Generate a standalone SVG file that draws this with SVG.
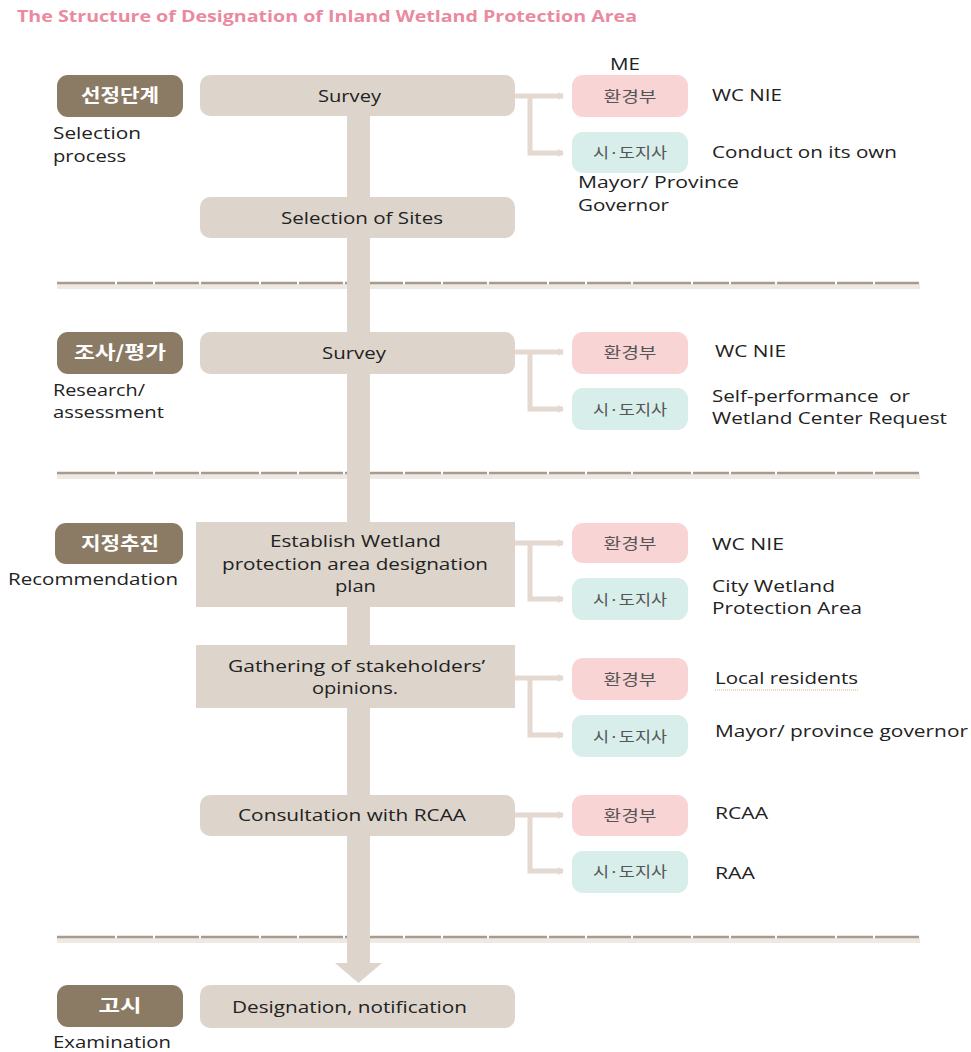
<svg xmlns="http://www.w3.org/2000/svg" width="971" height="1052" viewBox="0 0 971 1052">
<defs>
<marker id="ah" viewBox="0 0 6 8" refX="5" refY="4" markerWidth="6" markerHeight="8" markerUnits="userSpaceOnUse" orient="auto">
<path d="M0,0 L6,4 L0,8 z" fill="#e3d9d0"/>
</marker>
<style>
.stage{fill:#8b7a64}
.stxt{fill:#ffffff;font-family:"Noto Sans CJK KR",sans-serif;font-weight:bold;font-size:18px;text-anchor:middle}
.main{fill:#ddd5cb}
.t{fill:#222222;font-family:"Open Sans",sans-serif;font-size:17px}
.pink{fill:#f9d4d5}
.teal{fill:#d8eeea}
.kt{fill:#555555;font-family:"Noto Sans CJK KR",sans-serif;font-size:15px;text-anchor:middle}
.br{fill:none;stroke:#e3d9d0;stroke-width:5;marker-end:url(#ah)}
.brn{fill:none;stroke:#e3d9d0;stroke-width:5}
.div{stroke:#a79b8e;stroke-width:2.5;stroke-dasharray:58 2 36 2 44 2}
.band{fill:#efe9e4}
</style>
</defs>
<rect width="971" height="1052" fill="#ffffff"/>
<text x="17" y="22" fill="#ea8aa0" font-family="Open Sans, sans-serif" font-weight="bold" font-size="15.5" textLength="620" lengthAdjust="spacingAndGlyphs">The Structure of Designation of Inland Wetland Protection Area</text>

<g id="dividers">
<rect class="band" x="57" y="284" width="863" height="5"/>
<line class="div" x1="57" y1="283" x2="920" y2="283"/>
<rect class="band" x="57" y="474" width="863" height="5"/>
<line class="div" x1="57" y1="473" x2="920" y2="473"/>
<rect class="band" x="57" y="938" width="863" height="5"/>
<line class="div" x1="57" y1="937" x2="920" y2="937"/>
</g>

<g id="connectors">
<rect x="347" y="110" width="23" height="855" fill="#ddd5cb"/>
<polygon points="335,963 382,963 358.5,983" fill="#ddd5cb"/>
<path class="br" d="M515,96 H563"/>
<path class="br" d="M530,96 V153 H563"/>
<path class="br" d="M515,352 H563"/>
<path class="br" d="M530,352 V409 H563"/>
<path class="br" d="M515,543 H563"/>
<path class="br" d="M530,543 V599 H563"/>
<path class="br" d="M515,678 H563"/>
<path class="br" d="M530,678 V735 H563"/>
<path class="br" d="M515,815 H563"/>
<path class="br" d="M530,815 V871 H563"/>
</g>

<g id="stage1">
<rect class="stage" x="57" y="75" width="126" height="42" rx="11"/>
<text class="stxt" x="120" y="102" textLength="78" lengthAdjust="spacingAndGlyphs">선정단계</text>
<text class="t" x="53" y="139" textLength="88" lengthAdjust="spacingAndGlyphs">Selection</text>
<text class="t" x="53" y="162" textLength="73" lengthAdjust="spacingAndGlyphs">process</text>
</g>
<g id="survey1">
<rect class="main" x="200" y="75" width="315" height="41" rx="10"/>
<text class="t" x="318" y="102" textLength="63" lengthAdjust="spacingAndGlyphs">Survey</text>
</g>
<g id="me1">
<text class="t" x="610" y="70" textLength="30" lengthAdjust="spacingAndGlyphs">ME</text>
<rect class="pink" x="572" y="75" width="116" height="42" rx="11"/>
<text class="kt" x="630" y="102" textLength="53" lengthAdjust="spacingAndGlyphs">환경부</text>
<text class="t" x="712" y="101" textLength="70" lengthAdjust="spacingAndGlyphs">WC NIE</text>
</g>
<g id="gov1">
<rect class="teal" x="572" y="132" width="116" height="41" rx="11"/>
<text class="kt" x="630" y="158" textLength="74" lengthAdjust="spacingAndGlyphs">시·도지사</text>
<text class="t" x="712" y="158" textLength="185" lengthAdjust="spacingAndGlyphs">Conduct on its own</text>
<text class="t" x="578" y="188" textLength="161" lengthAdjust="spacingAndGlyphs">Mayor/ Province</text>
<text class="t" x="578" y="211" textLength="91" lengthAdjust="spacingAndGlyphs">Governor</text>
</g>
<g id="sites">
<rect class="main" x="200" y="197" width="315" height="41" rx="10"/>
<text class="t" x="281" y="224" textLength="162" lengthAdjust="spacingAndGlyphs">Selection of Sites</text>
</g>

<g id="stage2">
<rect class="stage" x="57" y="332" width="126" height="42" rx="11"/>
<text class="stxt" x="120" y="359" textLength="92" lengthAdjust="spacingAndGlyphs">조사/평가</text>
<text class="t" x="53" y="396" textLength="92" lengthAdjust="spacingAndGlyphs">Research/</text>
<text class="t" x="53" y="418" textLength="111" lengthAdjust="spacingAndGlyphs">assessment</text>
</g>
<g id="survey2">
<rect class="main" x="200" y="332" width="315" height="42" rx="10"/>
<text class="t" x="322" y="359" textLength="64" lengthAdjust="spacingAndGlyphs">Survey</text>
</g>
<g id="me2">
<rect class="pink" x="572" y="332" width="116" height="42" rx="11"/>
<text class="kt" x="630" y="358" textLength="53" lengthAdjust="spacingAndGlyphs">환경부</text>
<text class="t" x="715" y="357" textLength="71" lengthAdjust="spacingAndGlyphs">WC NIE</text>
</g>
<g id="gov2">
<rect class="teal" x="572" y="388" width="116" height="42" rx="11"/>
<text class="kt" x="630" y="415" textLength="74" lengthAdjust="spacingAndGlyphs">시·도지사</text>
<text class="t" x="712" y="402" textLength="198" lengthAdjust="spacingAndGlyphs" xml:space="preserve">Self-performance  or</text>
<text class="t" x="712" y="424" textLength="235" lengthAdjust="spacingAndGlyphs">Wetland Center Request</text>
</g>

<g id="stage3">
<rect class="stage" x="55" y="523" width="128" height="41" rx="11"/>
<text class="stxt" x="120" y="550" textLength="78" lengthAdjust="spacingAndGlyphs">지정추진</text>
<text class="t" x="8" y="585" textLength="170" lengthAdjust="spacingAndGlyphs">Recommendation</text>
</g>
<g id="establish">
<rect class="main" x="196" y="522" width="319" height="85"/>
<text class="t" x="270" y="547" textLength="171" lengthAdjust="spacingAndGlyphs">Establish Wetland</text>
<text class="t" x="222" y="570" textLength="266" lengthAdjust="spacingAndGlyphs">protection area designation</text>
<text class="t" x="335" y="592" textLength="41" lengthAdjust="spacingAndGlyphs">plan</text>
</g>
<g id="me3">
<rect class="pink" x="572" y="523" width="116" height="40" rx="11"/>
<text class="kt" x="630" y="549" textLength="53" lengthAdjust="spacingAndGlyphs">환경부</text>
<text class="t" x="712" y="550" textLength="72" lengthAdjust="spacingAndGlyphs">WC NIE</text>
</g>
<g id="gov3">
<rect class="teal" x="572" y="578" width="116" height="42" rx="11"/>
<text class="kt" x="630" y="605" textLength="74" lengthAdjust="spacingAndGlyphs">시·도지사</text>
<text class="t" x="712" y="592" textLength="123" lengthAdjust="spacingAndGlyphs">City Wetland</text>
<text class="t" x="712" y="614" textLength="150" lengthAdjust="spacingAndGlyphs">Protection Area</text>
</g>
<g id="gathering">
<rect class="main" x="196" y="645" width="319" height="63"/>
<text class="t" x="228" y="672" textLength="257" lengthAdjust="spacingAndGlyphs">Gathering of stakeholders’</text>
<text class="t" x="312" y="694" textLength="86" lengthAdjust="spacingAndGlyphs">opinions.</text>
</g>
<g id="me4">
<rect class="pink" x="572" y="658" width="116" height="42" rx="11"/>
<text class="kt" x="630" y="685" textLength="53" lengthAdjust="spacingAndGlyphs">환경부</text>
<text class="t" x="715" y="684" textLength="143" lengthAdjust="spacingAndGlyphs">Local residents</text>
<line x1="715" y1="690" x2="858" y2="690" stroke="#c8b87a" stroke-width="1" stroke-dasharray="1 1"/>
</g>
<g id="gov4">
<rect class="teal" x="572" y="715" width="116" height="42" rx="11"/>
<text class="kt" x="630" y="742" textLength="74" lengthAdjust="spacingAndGlyphs">시·도지사</text>
<text class="t" x="715" y="737" textLength="253" lengthAdjust="spacingAndGlyphs">Mayor/ province governor</text>
</g>
<g id="consultation">
<rect class="main" x="200" y="795" width="315" height="41" rx="10"/>
<text class="t" x="238" y="821" textLength="228" lengthAdjust="spacingAndGlyphs">Consultation with RCAA</text>
</g>
<g id="me5">
<rect class="pink" x="572" y="795" width="116" height="41" rx="11"/>
<text class="kt" x="630" y="821" textLength="53" lengthAdjust="spacingAndGlyphs">환경부</text>
<text class="t" x="715" y="819" textLength="53" lengthAdjust="spacingAndGlyphs">RCAA</text>
</g>
<g id="gov5">
<rect class="teal" x="572" y="851" width="116" height="42" rx="11"/>
<text class="kt" x="630" y="877" textLength="74" lengthAdjust="spacingAndGlyphs">시·도지사</text>
<text class="t" x="715" y="879" textLength="40" lengthAdjust="spacingAndGlyphs">RAA</text>
</g>

<g id="stage4">
<rect class="stage" x="57" y="985" width="126" height="42" rx="11"/>
<text class="stxt" x="120" y="1012" textLength="43" lengthAdjust="spacingAndGlyphs">고시</text>
<text class="t" x="53" y="1048" textLength="118" lengthAdjust="spacingAndGlyphs">Examination</text>
</g>
<g id="designation">
<rect class="main" x="200" y="985" width="315" height="43" rx="10"/>
<text class="t" x="232" y="1013" textLength="235" lengthAdjust="spacingAndGlyphs">Designation, notification</text>
</g>
</svg>
